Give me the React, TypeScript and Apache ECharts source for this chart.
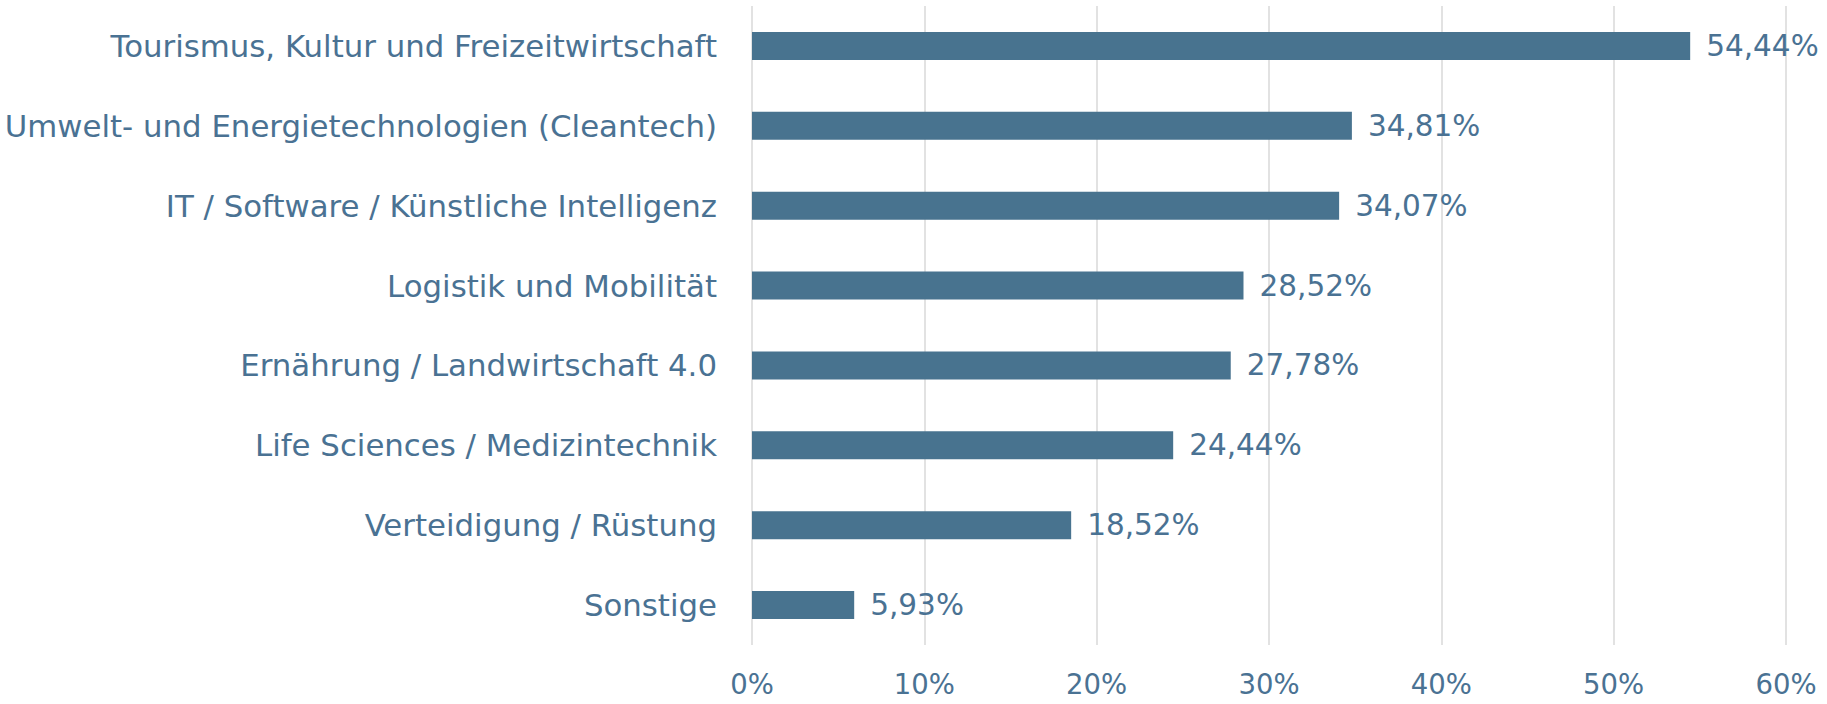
import React, { useEffect, useRef } from "react";
import * as echarts from "echarts";

const categories = [
  "Tourismus, Kultur und Freizeitwirtschaft",
  "Umwelt- und Energietechnologien (Cleantech)",
  "IT / Software / Künstliche Intelligenz",
  "Logistik und Mobilität",
  "Ernährung / Landwirtschaft 4.0",
  "Life Sciences / Medizintechnik",
  "Verteidigung / Rüstung",
  "Sonstige",
];
const values = [54.44, 34.81, 34.07, 28.52, 27.78, 24.44, 18.52, 5.93];
const axisMin = 0;
const axisMax = 60;
const axisInterval = 10;

const TEXT = "#4a7293";
const BAR = "#48738f";
const FONT = "DejaVu Sans";

export default function App() {
  const ref = useRef<HTMLDivElement>(null);
  useEffect(() => {
    const chart = echarts.init(ref.current!, undefined, { renderer: "svg" });
    chart.setOption({
      animation: false,
      grid: { left: 752, right: 41, top: 6, bottom: 59, containLabel: false },
      xAxis: {
        type: "value",
        min: axisMin,
        max: axisMax,
        interval: axisInterval,
        axisLine: { show: false },
        axisTick: { show: false },
        splitLine: { show: true, lineStyle: { color: "#d9d9d9", width: 1.5 } },
        axisLabel: {
          formatter: (v: number) => `${v}%`,
          color: TEXT,
          fontFamily: FONT,
          fontSize: 27.5,
          margin: 25,
        },
      },
      yAxis: {
        type: "category",
        data: categories,
        inverse: true,
        axisLine: { show: false },
        axisTick: { show: false },
        splitLine: { show: false },
        axisLabel: {
          color: TEXT,
          fontFamily: FONT,
          fontSize: 30.8,
          margin: 35,
        },
      },
      series: [
        {
          type: "bar",
          data: values,
          barWidth: 28,
          itemStyle: { color: BAR },
          label: {
            show: true,
            position: "right",
            distance: 16,
            color: TEXT,
            fontFamily: FONT,
            fontSize: 29.5,
            formatter: (p: any) => p.value.toFixed(2).replace(".", ",") + "%",
          },
        },
      ],
    });
    return () => chart.dispose();
  }, []);
  return (
    <div
      ref={ref}
      style={{ position: "fixed", left: 0, top: 0, width: 1827, height: 704, background: "#fff" }}
    />
  );
}
